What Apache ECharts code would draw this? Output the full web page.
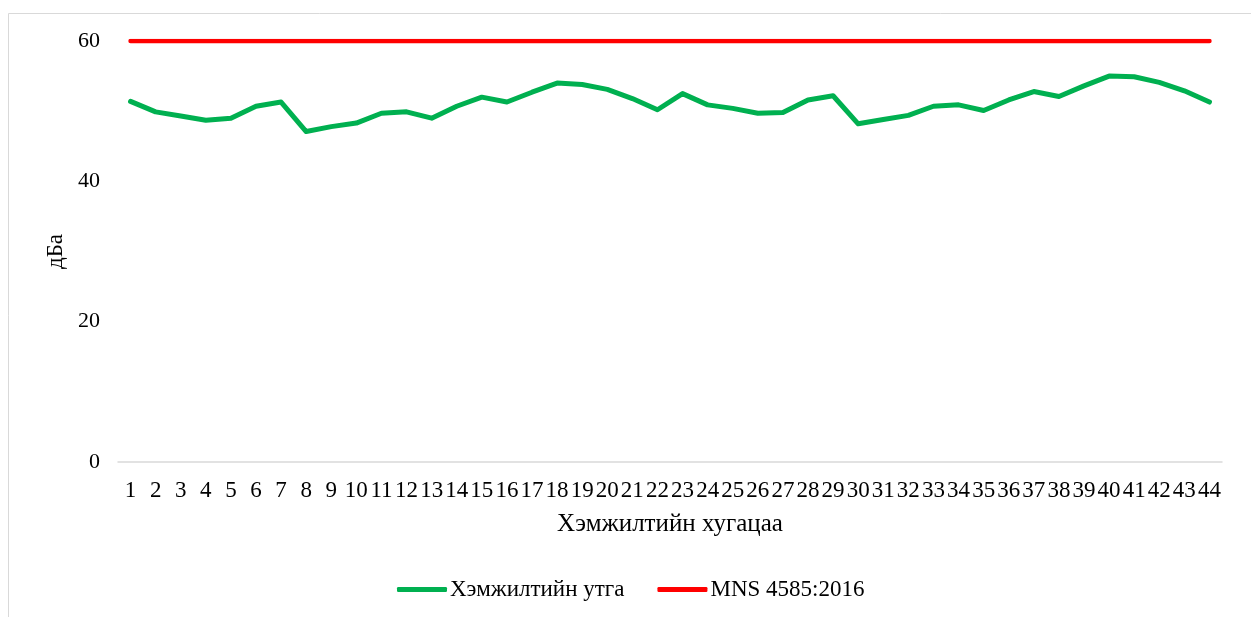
<!DOCTYPE html>
<html>
<head>
<meta charset="utf-8">
<script src="https://cdn.jsdelivr.net/npm/echarts@6/dist/echarts.min.js"></script>
<style>html,body{margin:0;padding:0;background:#fff}#c{width:1251px;height:617px}</style>
</head>
<body>
<div id="c"></div>
<script>
var categories = [];
for (var i = 1; i <= 44; i++) categories.push(String(i));
var measured = [51.4, 49.9, 49.3, 48.7, 49.0, 50.7, 51.3, 47.1, 47.8, 48.3, 49.7, 49.9, 49.0, 50.7, 52.0, 51.3, 52.7, 54.0, 53.8, 53.1, 51.8, 50.2, 52.5, 50.9, 50.4, 49.7, 49.8, 51.6, 52.2, 48.2, 48.8, 49.4, 50.7, 50.9, 50.1, 51.6, 52.8, 52.1, 53.6, 55.0, 54.9, 54.1, 52.9, 51.3];
var standard = [60, 60, 60, 60, 60, 60, 60, 60, 60, 60, 60, 60, 60, 60, 60, 60, 60, 60, 60, 60, 60, 60, 60, 60, 60, 60, 60, 60, 60, 60, 60, 60, 60, 60, 60, 60, 60, 60, 60, 60, 60, 60, 60, 60];
var seriesNames = ['Хэмжилтийн утга', 'MNS 4585:2016'];
var yTicks = {min: 0, max: 60, interval: 20};

var font = 'Liberation Serif, Times New Roman, serif';
var chart = echarts.init(document.getElementById('c'));
chart.setOption({
  animation: false,
  backgroundColor: '#fff',
  graphic: [{
    type: 'rect', left: 6, top: 11,
    shape: {width: 1243, height: 640},
    style: {fill: 'none', stroke: '#d9d9d9', lineWidth: 1}
  }],
  grid: {left: 118, right: 29, top: 41, bottom: 155},
  legend: {
    left: 392, top: 573,
    itemWidth: 50, itemHeight: 5, itemGap: 33,
    icon: 'roundRect',
    textStyle: {fontFamily: font, fontSize: 23, color: '#000', padding: [0, 0, 0, -2]},
    data: seriesNames
  },
  xAxis: {
    type: 'category',
    data: categories,
    boundaryGap: true,
    name: 'Хэмжилтийн хугацаа',
    nameLocation: 'middle',
    nameGap: 50,
    nameTextStyle: {fontFamily: font, fontSize: 25, color: '#000'},
    axisLine: {lineStyle: {color: '#d9d9d9', width: 1.5}},
    axisTick: {show: false},
    axisLabel: {interval: 0, fontFamily: font, fontSize: 23, color: '#000', margin: 17}
  },
  yAxis: {
    type: 'value',
    min: yTicks.min, max: yTicks.max, interval: yTicks.interval,
    name: 'дБа',
    nameLocation: 'middle',
    nameGap: 50,
    nameRotate: 90,
    nameTextStyle: {fontFamily: font, fontSize: 23, color: '#000'},
    axisLine: {show: false},
    axisTick: {show: false},
    splitLine: {show: false},
    axisLabel: {fontFamily: font, fontSize: 22, color: '#000', margin: 18}
  },
  series: [{
    name: seriesNames[0], type: 'line', data: measured,
    symbol: 'none', smooth: false,
    lineStyle: {color: '#00B050', width: 5, cap: 'round', join: 'round'},
    itemStyle: {color: '#00B050'}
  }, {
    name: seriesNames[1], type: 'line', data: standard,
    symbol: 'none',
    lineStyle: {color: '#FF0000', width: 4.5, cap: 'round'},
    itemStyle: {color: '#FF0000'}
  }]
});
</script>
</body>
</html>
